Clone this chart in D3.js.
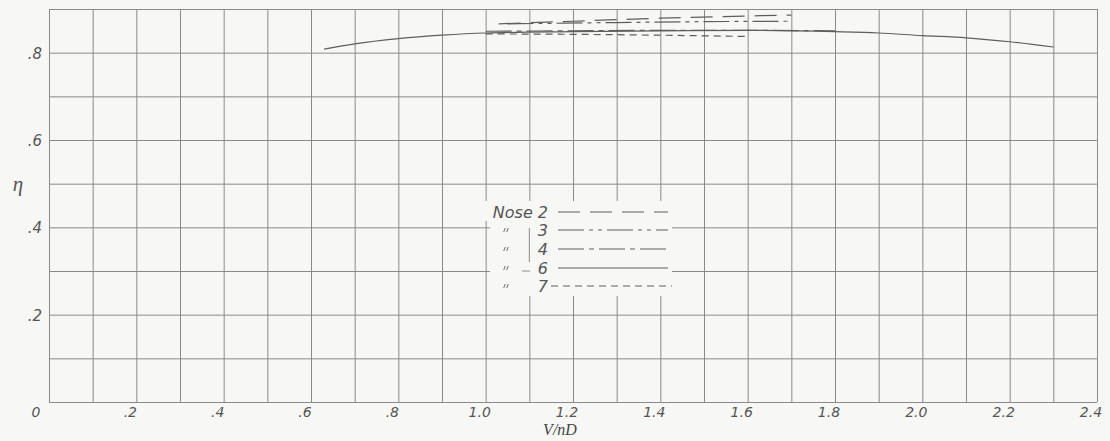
<!DOCTYPE html>
<html>
<head>
<meta charset="utf-8">
<script src="https://cdn.jsdelivr.net/npm/d3@7"></script>
<style>
  html, body { margin: 0; padding: 0; background: #f7f7f6; }
  svg { display: block; }
  .lbl { font-family: "DejaVu Sans", sans-serif; font-style: italic; font-size: 15px; fill: #555; }
</style>
</head>
<body>
<svg id="chart" width="1110" height="441"></svg>
<script>
// propeller efficiency vs V/nD, noses 2..7
const xTicks = [0, 0.2, 0.4, 0.6, 0.8, 1.0, 1.2, 1.4, 1.6, 1.8, 2.0, 2.2, 2.4];
const xTickLabels = ['0', '.2', '.4', '.6', '.8', '1.0', '1.2', '1.4', '1.6', '1.8', '2.0', '2.2', '2.4'];
const yTicks = [0.2, 0.4, 0.6, 0.8];
const yTickLabels = ['.2', '.4', '.6', '.8'];

const nose2x = [1.03, 1.2, 1.4, 1.6, 1.7];
const nose2y = [0.866, 0.872, 0.879, 0.884, 0.886];
const nose3x = [1.05, 1.3, 1.5, 1.7];
const nose3y = [0.866, 0.869, 0.871, 0.872];
const nose4x = [1.0, 1.2, 1.4, 1.6, 1.8];
const nose4y = [0.849, 0.850, 0.851, 0.851, 0.850];
const nose6x = [0.63, 0.7, 0.8, 0.9, 1.0, 1.2, 1.4, 1.6, 1.8, 1.9, 2.0, 2.1, 2.2, 2.3];
const nose6y = [0.808, 0.820, 0.832, 0.840, 0.845, 0.848, 0.850, 0.851, 0.848, 0.845, 0.839, 0.834, 0.825, 0.813];
const nose7x = [1.0, 1.2, 1.4, 1.6];
const nose7y = [0.843, 0.842, 0.840, 0.837];

const legendNames = ['2', '3', '4', '6', '7'];

const svg = d3.select('#chart');
const x = d3.scaleLinear().domain([0, 2.4]).range([49, 1097]);
const y = d3.scaleLinear().domain([0, 0.9]).range([402, 9]);

const gridColor = '#8a8a8a';
const ink = '#5e5e5e';

// grid
const gx = svg.append('g')
    .attr('transform', 'translate(0,' + y(0) + ')')
    .call(d3.axisBottom(x).tickValues(d3.range(0, 25).map(i => i / 10))
        .tickSize(-(y(0) - y(0.9))).tickFormat(''));
const gy = svg.append('g')
    .attr('transform', 'translate(' + x(0) + ',0)')
    .call(d3.axisLeft(y).tickValues(d3.range(0, 10).map(i => i / 10))
        .tickSize(-(x(2.4) - x(0))).tickFormat(''));
[gx, gy].forEach(g => {
    g.select('.domain').remove();
    g.selectAll('line').attr('stroke', gridColor).attr('stroke-width', 1);
});

// tick labels
svg.append('g').selectAll('text').data(xTicks).join('text')
    .attr('class', 'lbl')
    .attr('x', (d, i) => x(d) - (i === 0 ? 13 : 6))
    .attr('y', 417)
    .attr('text-anchor', 'middle')
    .style('font-size', '14px')
    .text((d, i) => xTickLabels[i]);
svg.append('g').selectAll('text').data(yTicks).join('text')
    .attr('class', 'lbl')
    .attr('x', 42)
    .attr('y', d => y(d) + 6)
    .attr('text-anchor', 'end')
    .text((d, i) => yTickLabels[i]);

svg.append('text')
    .attr('x', 560).attr('y', 435)
    .attr('text-anchor', 'middle')
    .style('font-family', '"Liberation Serif", serif').style('font-style', 'italic')
    .style('font-size', '16px').style('fill', '#444')
    .text('V/nD');
svg.append('text')
    .attr('x', 18).attr('y', 191)
    .attr('text-anchor', 'middle')
    .style('font-family', '"Liberation Serif", serif').style('font-style', 'italic')
    .style('font-size', '21px').style('fill', '#555')
    .text('η');

// curves
const series = [
    { xs: nose2x, ys: nose2y, dash: '22,10' },
    { xs: nose3x, ys: nose3y, dash: '26,5,4,5,4,5' },
    { xs: nose4x, ys: nose4y, dash: '26,5,5,5' },
    { xs: nose6x, ys: nose6y, dash: null },
    { xs: nose7x, ys: nose7y, dash: '7,5' }
];
const line = d3.line().x(d => x(d[0])).y(d => y(d[1])).curve(d3.curveMonotoneX);
svg.append('g').selectAll('path').data(series).join('path')
    .attr('d', s => line(s.xs.map((v, i) => [v, s.ys[i]])))
    .attr('fill', 'none')
    .attr('stroke', ink)
    .attr('stroke-width', 1.2)
    .attr('stroke-dasharray', s => s.dash);

// legend (masks the grid behind it)
const lg = svg.append('g');
lg.append('rect').attr('x', 490).attr('y', 218).attr('width', 182).attr('height', 78).attr('fill', '#f7f7f6');
lg.append('rect').attr('x', 472).attr('y', 201).attr('width', 200).attr('height', 20).attr('fill', '#f7f7f6');
lg.append('line')
    .attr('x1', x(1.1)).attr('x2', x(1.1)).attr('y1', 228).attr('y2', 262)
    .attr('stroke', gridColor);
lg.append('line')
    .attr('x1', 522).attr('x2', 530).attr('y1', y(0.3)).attr('y2', y(0.3))
    .attr('stroke', gridColor);

const rowY = [212, 230, 249, 268, 286];
const legRows = lg.selectAll('g.row').data(series).join('g').attr('class', 'row');
legRows.append('line')
    .attr('x1', (d, i) => i === 4 ? 551 : 558)
    .attr('x2', (d, i) => i === 4 ? 672 : 668)
    .attr('y1', (d, i) => rowY[i]).attr('y2', (d, i) => rowY[i])
    .attr('stroke', ink).attr('stroke-width', 1.1)
    .attr('stroke-dasharray', d => d.dash);
legRows.append('text')
    .attr('class', 'lbl')
    .attr('x', 548).attr('y', (d, i) => rowY[i] + 6)
    .attr('text-anchor', 'end')
    .style('font-size', '16px')
    .text((d, i) => i === 0 ? 'Nose ' + legendNames[i] : legendNames[i]);
// ditto marks
[-1.5, 1.5].forEach(off => {
    legRows.filter((d, i) => i > 0).append('line')
        .attr('x1', (d, i) => 506 + off + 0.8).attr('x2', (d, i) => 506 + off - 0.8)
        .attr('y1', (d, i) => rowY[i + 1] - 2).attr('y2', (d, i) => rowY[i + 1] + 2)
        .attr('stroke', ink).attr('stroke-width', 0.9);
});
</script>
</body>
</html>
